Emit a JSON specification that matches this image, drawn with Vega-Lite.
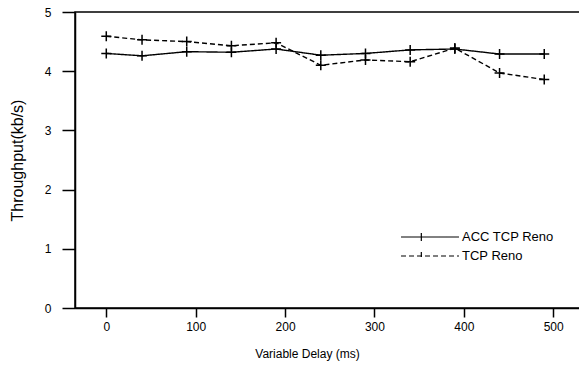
{
  "$schema": "https://vega.github.io/schema/vega-lite/v6.json",
  "width": 505,
  "height": 296,
  "autosize": "none",
  "padding": {"left": 75, "top": 12, "right": 0, "bottom": 59},
  "background": "white",
  "config": {
    "font": "Liberation Sans",
    "view": {"stroke": "black", "strokeWidth": 1.5},
    "axis": {"domainColor": "black", "domainWidth": 1.5, "tickColor": "black", "tickWidth": 1.5, "labelColor": "black", "titleColor": "black", "grid": false, "labelFontSize": 12, "titleFontWeight": "normal"}
  },
  "data": {
    "values": [
      {"delay": 0, "tp": 4.30, "series": "ACC TCP Reno"},
      {"delay": 40, "tp": 4.26, "series": "ACC TCP Reno"},
      {"delay": 90, "tp": 4.33, "series": "ACC TCP Reno"},
      {"delay": 140, "tp": 4.32, "series": "ACC TCP Reno"},
      {"delay": 190, "tp": 4.375, "series": "ACC TCP Reno"},
      {"delay": 240, "tp": 4.27, "series": "ACC TCP Reno"},
      {"delay": 290, "tp": 4.30, "series": "ACC TCP Reno"},
      {"delay": 340, "tp": 4.36, "series": "ACC TCP Reno"},
      {"delay": 390, "tp": 4.375, "series": "ACC TCP Reno"},
      {"delay": 440, "tp": 4.29, "series": "ACC TCP Reno"},
      {"delay": 490, "tp": 4.29, "series": "ACC TCP Reno"},
      {"delay": 0, "tp": 4.59, "series": "TCP Reno"},
      {"delay": 40, "tp": 4.53, "series": "TCP Reno"},
      {"delay": 90, "tp": 4.50, "series": "TCP Reno"},
      {"delay": 140, "tp": 4.43, "series": "TCP Reno"},
      {"delay": 190, "tp": 4.48, "series": "TCP Reno"},
      {"delay": 240, "tp": 4.10, "series": "TCP Reno"},
      {"delay": 290, "tp": 4.19, "series": "TCP Reno"},
      {"delay": 340, "tp": 4.16, "series": "TCP Reno"},
      {"delay": 390, "tp": 4.39, "series": "TCP Reno"},
      {"delay": 440, "tp": 3.97, "series": "TCP Reno"},
      {"delay": 490, "tp": 3.86, "series": "TCP Reno"}
    ]
  },
  "encoding": {
    "x": {
      "field": "delay", "type": "quantitative",
      "scale": {"domain": [-35, 530], "nice": false, "zero": false},
      "axis": {"values": [0, 100, 200, 300, 400, 500], "tickSize": 9, "labelPadding": 4, "title": "Variable Delay (ms)", "titleFontSize": 12, "titlePadding": 16, "titleX": 232, "labelFlush": false}
    },
    "y": {
      "field": "tp", "type": "quantitative",
      "scale": {"domain": [0, 5], "nice": false},
      "axis": {"values": [0, 1, 2, 3, 4, 5], "tickSize": 13, "labelPadding": 11, "title": "Throughput(kb/s)", "titleFontSize": 16, "titlePadding": 19, "labelFlush": false}
    }
  },
  "layer": [
    {
      "mark": {"type": "line", "color": "black", "strokeWidth": 1.4},
      "encoding": {
        "strokeDash": {
          "field": "series", "type": "nominal",
          "scale": {"domain": ["ACC TCP Reno", "TCP Reno"], "range": [[1, 0], [5, 3]]},
          "legend": {
            "title": null,
            "orient": "none",
            "legendX": 347,
            "legendY": 217,
            "symbolType": "M-1.24,-0.57V0.57M-4.14,0H4.14",
            "symbolSize": 196,
            "symbolStrokeColor": "black",
            "symbolStrokeWidth": 1.2,
            "labelFontSize": 13,
            "labelColor": "black",
            "labelOffset": 24,
            "rowPadding": 4
          }
        }
      }
    },
    {
      "mark": {"type": "point", "shape": "M-1,0H1M0,-1V1", "size": 100, "filled": false, "color": "black", "strokeWidth": 1.5, "opacity": 1},
      "encoding": {"detail": {"field": "series"}}
    }
  ]
}
